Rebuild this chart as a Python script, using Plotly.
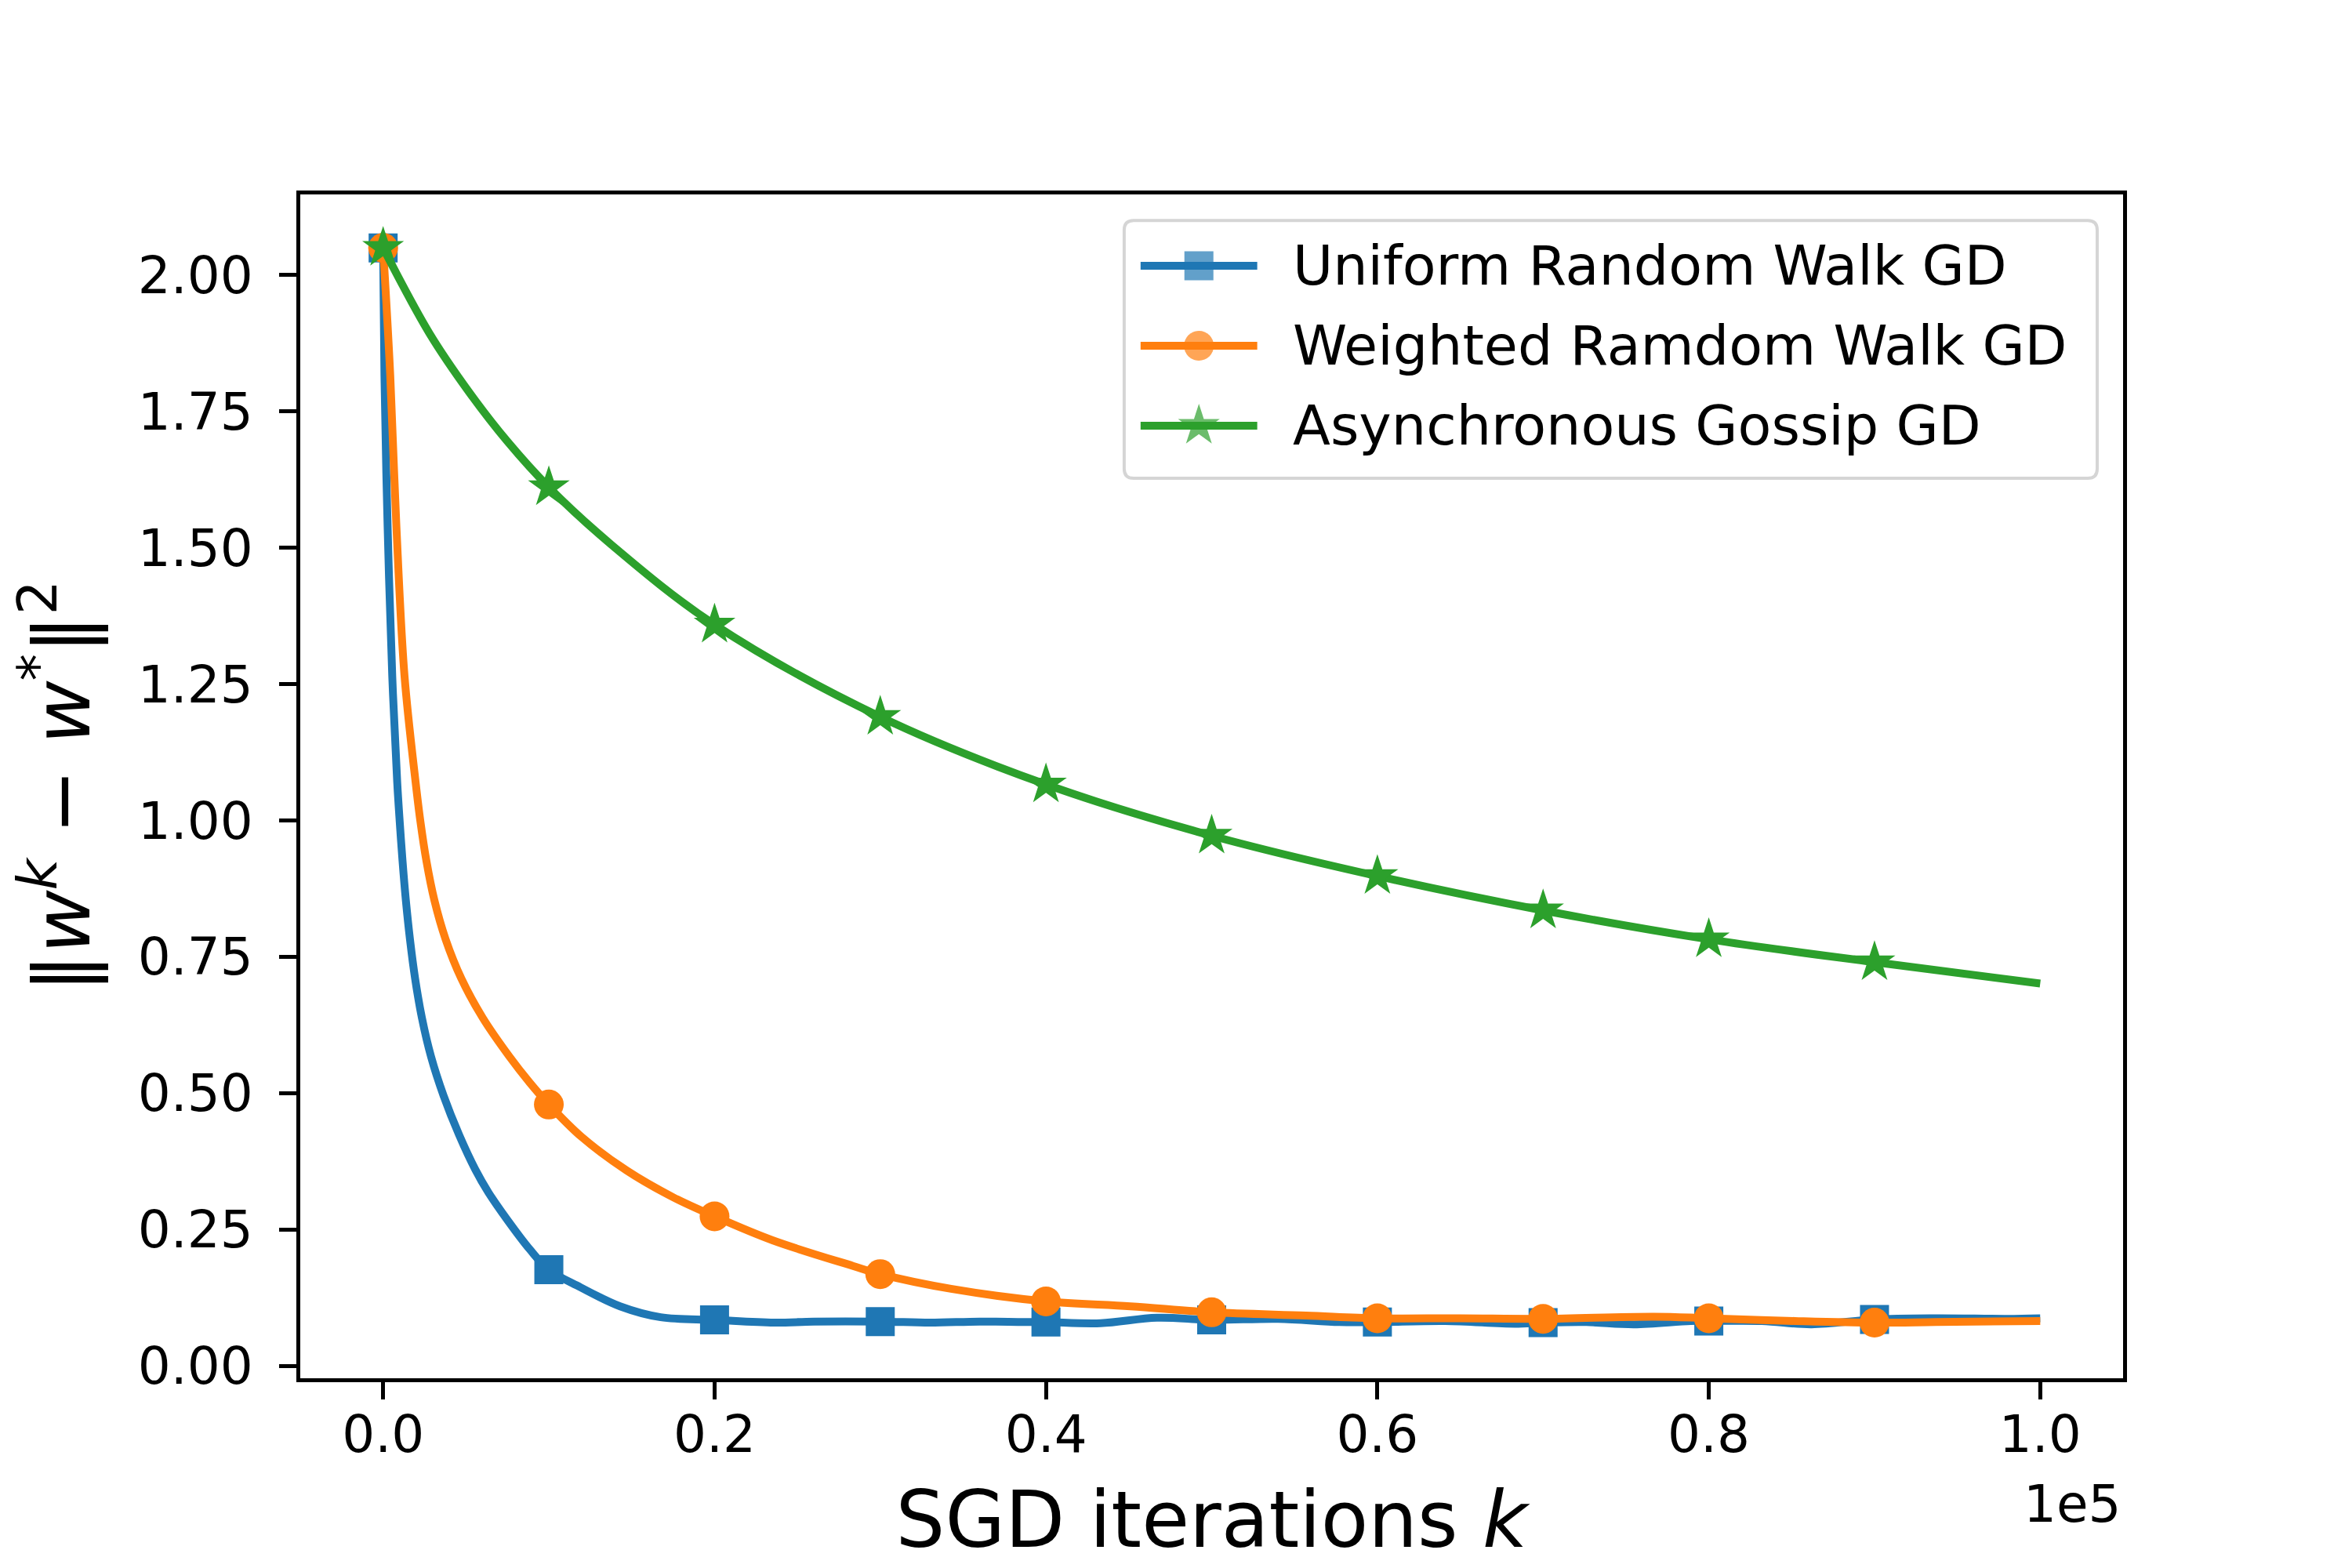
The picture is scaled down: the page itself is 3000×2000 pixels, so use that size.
import plotly.graph_objects as go

# ---------------- data ----------------
series_names = ["Uniform Random Walk GD", "Weighted Ramdom Walk GD", "Asynchronous Gossip GD"]
series_colors = ["#1f77b4", "#ff7f0e", "#2ca02c"]
series_symbols = ["square", "circle", "star"]

blue_k = [0, 80, 270, 550, 850, 1000, 1170, 1370, 1620, 1930, 2340, 2890, 3650, 4590, 5560,
          6350, 7530, 8860, 10000, 11900, 14300, 16750, 20000, 23600, 26000, 30000, 33000,
          36000, 38700, 40000, 43300, 46700, 50000, 54000, 57700, 60000, 64100, 68300, 70000,
          72600, 75500, 78900, 80000, 83200, 86200, 90000, 93700, 98000, 100000]
blue_v = [2.05, 1.816, 1.54, 1.265, 1.070, 0.998, 0.926, 0.854, 0.782, 0.710, 0.638, 0.567,
          0.495, 0.423, 0.360, 0.318, 0.266, 0.213, 0.176, 0.144, 0.109, 0.089, 0.084, 0.079,
          0.081, 0.081, 0.079, 0.081, 0.080, 0.080, 0.078, 0.088, 0.084, 0.086, 0.080, 0.080,
          0.082, 0.077, 0.079, 0.080, 0.076, 0.082, 0.082, 0.082, 0.076, 0.085, 0.087, 0.086,
          0.087]

orange_k = [0, 430, 800, 1290, 1960, 2250, 2610, 3090, 3770, 4720, 6010, 7620, 8850, 10000,
            12000, 14700, 17500, 20000, 23500, 28350, 30000, 34270, 40000, 45100, 50000, 55700,
            60000, 65000, 70000, 76700, 80000, 85200, 90000, 93700, 100000]
orange_v = [2.05, 1.816, 1.54, 1.265, 1.070, 0.998, 0.926, 0.854, 0.782, 0.710, 0.638, 0.567,
            0.519, 0.479, 0.419, 0.358, 0.309, 0.274, 0.230, 0.183, 0.168, 0.141, 0.118, 0.109,
            0.098, 0.092, 0.087, 0.087, 0.086, 0.090, 0.087, 0.082, 0.079, 0.080, 0.082]

green_k = [0, 2800, 5200, 7500, 10000, 13800, 20000, 30000, 40000, 50000, 60000, 70000, 80000,
           90000, 100000]
green_v = [2.05, 1.893, 1.785, 1.695, 1.611, 1.505, 1.359, 1.19, 1.066, 0.972, 0.898, 0.835, 0.782,
           0.740, 0.701]

x_tickvals = [0, 20000, 40000, 60000, 80000, 100000]
x_ticktext = ["0.0", "0.2", "0.4", "0.6", "0.8", "1.0"]
y_tickvals = [0.0, 0.25, 0.5, 0.75, 1.0, 1.25, 1.5, 1.75, 2.0]
y_ticktext = ["0.00", "0.25", "0.50", "0.75", "1.00", "1.25", "1.50", "1.75", "2.00"]
mark_every = 10000
last_k = 100000

# ---------------- figure ----------------
FONT = "DejaVu Sans"
LW = 10
MSIZE = {"square": 37, "circle": 38, "star": 40}

fig = go.Figure()

all_series = [(blue_k, blue_v), (orange_k, orange_v), (green_k, green_v)]
for (ks, vs), name, col, sym in zip(all_series, series_names, series_colors, series_symbols):
    fig.add_trace(go.Scatter(
        x=ks, y=vs, mode="lines", name=name, showlegend=False,
        line=dict(color=col, width=LW, shape="spline", smoothing=1.0),
        hoverinfo="skip"))
    mk = [k for k in ks if k % mark_every == 0 and k < last_k]
    mv = [v for k, v in zip(ks, vs) if k % mark_every == 0 and k < last_k]
    fig.add_trace(go.Scatter(
        x=mk, y=mv, mode="markers", showlegend=False,
        marker=dict(symbol=sym, size=MSIZE[sym], color=col,
                    line=dict(width=0)),
        hoverinfo="skip"))

# ---------------- custom legend (matplotlib style) ----------------
lx0, lx1, ly0, ly1 = 0.452, 0.9858, 0.7603, 0.978
rx, ry = 12 / 2325, 12 / 1510
path = (f"M {lx0+rx},{ly0} L {lx1-rx},{ly0} Q {lx1},{ly0} {lx1},{ly0+ry} "
        f"L {lx1},{ly1-ry} Q {lx1},{ly1} {lx1-rx},{ly1} L {lx0+rx},{ly1} "
        f"Q {lx0},{ly1} {lx0},{ly1-ry} L {lx0},{ly0+ry} Q {lx0},{ly0} {lx0+rx},{ly0} Z")
fig.add_shape(type="path", path=path, xref="paper", yref="paper",
              line=dict(color="#d5d5d5", width=4), fillcolor="white", layer="below")

rows = [0.9397, 0.8722, 0.8046]
seg_x = [0.4610, 0.4930, 0.5250]
text_x = 0.5435
for row, name, col, sym in zip(rows, series_names, series_colors, series_symbols):
    fig.add_trace(go.Scatter(
        x=seg_x, y=[row, row, row], xaxis="x2", yaxis="y2", mode="lines+markers",
        showlegend=False, hoverinfo="skip",
        line=dict(color=col, width=LW),
        marker=dict(symbol=sym, size=[0, MSIZE[sym], 0], color=col, line=dict(width=0))))
    fig.add_annotation(x=text_x, y=row, xref="paper", yref="paper", text=name,
                       showarrow=False, xanchor="left", yanchor="middle",
                       font=dict(family=FONT, size=70, color="black"))

# offset text "1e5"
fig.add_annotation(x=1.0, y=-0.106, xref="paper", yref="paper", text="1e5",
                   showarrow=False, xanchor="right", yanchor="middle",
                   font=dict(family=FONT, size=66, color="black"))

axis_common = dict(showline=True, linecolor="black", linewidth=5, mirror=True,
                   ticks="outside", ticklen=22, tickwidth=5, tickcolor="black",
                   showgrid=False, zeroline=False,
                   tickfont=dict(family=FONT, size=66, color="black"))

fig.update_layout(
    width=3000, height=2000,
    margin=dict(l=375, r=300, t=240, b=250),
    paper_bgcolor="white", plot_bgcolor="rgba(0,0,0,0)",
    font=dict(family=FONT, color="black"),
    showlegend=False,
    xaxis=dict(range=[-5000, 105000], tickvals=x_tickvals, ticktext=x_ticktext,
               ticklabelstandoff=-12,
               title=dict(text="SGD iterations <i>k</i>", standoff=38,
                          font=dict(family=FONT, size=99, color="black")),
               **axis_common),
    yaxis=dict(range=[-0.023, 2.148], tickvals=y_tickvals, ticktext=y_ticktext,
               ticklabelstandoff=20,
               title=dict(text="‖<i>w</i><sup><i>k</i></sup> − <i>w</i><sup>*</sup>‖<sup>2</sup>",
                          standoff=30, font=dict(family=FONT, size=99, color="black")),
               **axis_common),
    xaxis2=dict(overlaying="x", range=[0, 1], visible=False, fixedrange=True),
    yaxis2=dict(overlaying="y", range=[0, 1], visible=False, fixedrange=True),
)

fig.write_html("out.html")
